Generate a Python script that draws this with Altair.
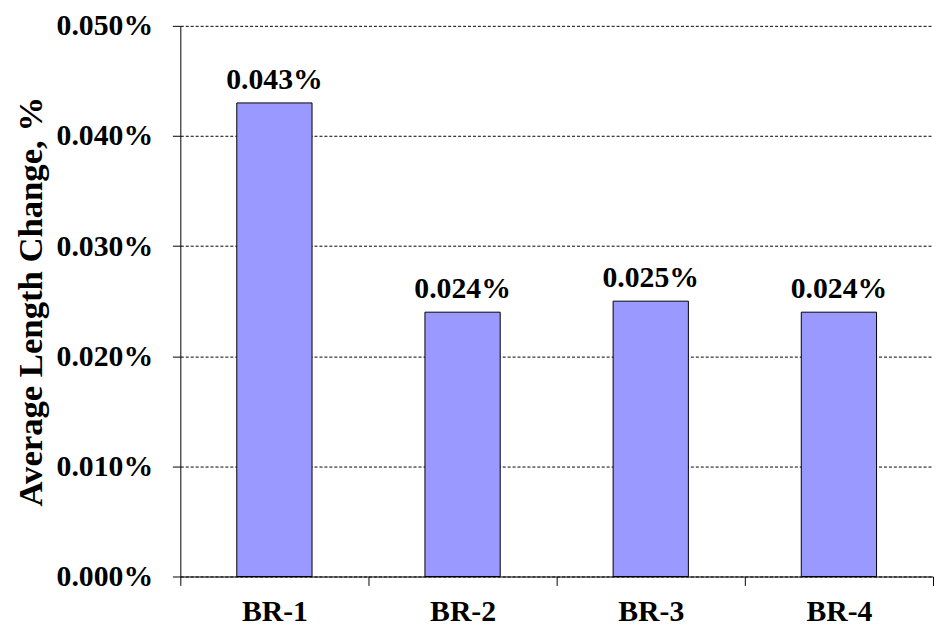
import altair as alt
import pandas as pd

categories = ["BR-1", "BR-2", "BR-3", "BR-4"]
values = [0.043, 0.024, 0.025, 0.024]
labels = ["0.043%", "0.024%", "0.025%", "0.024%"]

df = pd.DataFrame({"cat": categories, "val": values, "lab": labels})

FONT = "Liberation Serif"

x = alt.X("cat:N", sort=categories, title=None,
          scale=alt.Scale(paddingInner=0, paddingOuter=0),
          axis=alt.Axis(labelAngle=0, labelFont=FONT, labelFontSize=30, labelFontWeight="bold",
                        labelColor="black", tickBand="extent", tickColor="black", tickSize=9,
                        domainColor="black", labelPadding=11, grid=False))
y = alt.Y("val:Q", title="Average Length Change, %",
          scale=alt.Scale(domain=[0, 0.05], nice=False),
          axis=alt.Axis(values=[0, 0.01, 0.02, 0.03, 0.04, 0.05],
                        labelExpr="format(datum.value, '.3f') + '%'",
                        labelFont=FONT, labelFontSize=30, labelFontWeight="bold", labelColor="black",
                        titleFont=FONT, titleFontSize=35, titleFontWeight="bold", titleColor="black",
                        tickColor="black", tickSize=8, domainColor="black", labelPadding=20,
                        titlePadding=8,
                        grid=True, gridColor="black", gridDash=[3, 2], gridWidth=1))

bars = alt.Chart(df).mark_bar(color="#9999FF", stroke="black", strokeWidth=1, size=76).encode(x=x, y=y)
text = alt.Chart(df).mark_text(font=FONT, fontSize=30, fontWeight="bold", color="black",
                               baseline="alphabetic", dy=-14).encode(x=x, y=y, text="lab:N")

chart = alt.layer(bars, text).properties(
    width=760, height=556,
    padding={"left": 5, "top": 0, "right": 0, "bottom": 0},
    background="white",
).configure_view(stroke=None)

chart.save("out.html", embed_options={"renderer": "svg", "actions": False})
